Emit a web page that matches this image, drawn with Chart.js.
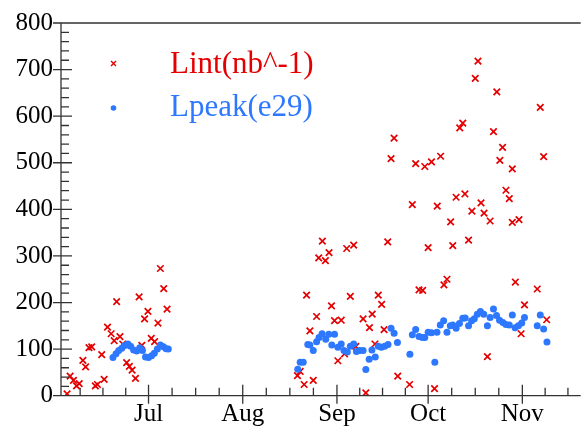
<!DOCTYPE html>
<html>
<head>
<meta charset="utf-8">
<script src="https://cdn.jsdelivr.net/npm/chart.js@4"></script>
<style>
  body { margin: 0; background: #fff; }
  canvas { display: block; }
</style>
</head>
<body>
<canvas id="lumiChart" width="587" height="429"></canvas>
<script>
// data, x = day of year -------------------------------------------------------
const monthStarts = [152, 182, 213, 244, 274, 305, 335];
const monthNames = ['Jun', 'Jul', 'Aug', 'Sep', 'Oct', 'Nov', 'Dec'];

const lintDay = [155.2, 156.2, 157.3, 158.3, 159.2, 160.4, 161.3, 162.4, 163.3, 164.5, 165.2, 166.6, 167.4, 168.5,
  169.7, 170.7, 171.5, 172.6, 173.5, 174.8, 175.7, 176.6, 177.7, 178.9, 179.8, 180.7, 181.8, 182.9, 184.0, 185.1,
  185.9, 187.0, 188.1,
  231.0, 231.9, 233.2, 234.0, 235.1, 236.2, 237.3, 238.0, 239.2, 240.2, 241.4, 242.2, 243.2, 244.3, 245.4, 246.5,
  247.2, 248.4, 249.5, 250.2, 252.6, 253.5, 254.7, 255.6, 256.5, 257.6, 258.7, 259.5, 260.7, 261.8, 262.8, 264.0,
  267.9, 268.8, 269.9, 271.0, 272.2, 272.9, 274.0, 275.1, 276.1, 277.0, 278.1, 279.2, 280.2, 281.4, 282.1, 283.2,
  284.4, 285.4, 286.1, 287.3, 288.4, 289.5, 290.4, 291.4, 292.4, 293.5, 294.4, 295.5, 296.6, 297.6, 298.5, 299.6,
  300.7, 301.7, 301.7, 302.7, 303.9, 304.6, 305.7, 309.9, 310.9, 312.0, 313.0];
const lintVal = [4, 42, 33, 21, 26, 76, 62, 103, 105, 21, 24, 88, 35, 147,
  133, 118, 202, 127, 111, 71, 63, 55, 37, 212, 108, 165, 181, 123, 116, 156,
  273, 230, 186,
  43, 52, 24, 216, 139, 33, 170, 296, 332, 290, 307, 193, 161, 75, 162, 90,
  316, 213, 323, 106, 165, 6, 146, 175, 111, 216, 196, 142, 330, 509, 553, 42,
  24, 410, 498, 227, 226, 492, 318, 502, 15, 407, 514, 238, 250, 373, 322, 426,
  575, 585, 433, 334, 396, 681, 718, 414, 392, 84, 375, 567, 652, 505, 533, 441,
  423, 487, 372, 244, 378, 133, 195, 229, 619, 513, 163];

const peakDay = [170.3, 171.3, 172.2, 173.2, 174.2, 175.2, 176.1, 177.1, 178.1, 179.1, 180.0, 181.0, 182.0, 183.0,
  183.9, 184.9, 185.9, 186.9, 187.8, 188.5,
  231.1, 231.9, 232.9, 234.4, 235.1, 236.2, 237.3, 238.1, 239.1, 240.3, 241.3, 242.3, 243.2, 244.3, 245.4, 246.3,
  247.4, 248.4, 249.5, 250.4, 251.5, 252.6, 253.5, 254.6, 255.5, 256.6, 257.6, 258.6, 259.7, 260.8, 261.8, 262.8,
  263.9, 268.0, 268.8, 269.9, 271.0, 272.1, 272.9, 274.0, 275.1, 276.2, 276.9, 278.0, 279.1, 280.2, 281.3, 282.1,
  283.2, 284.3, 285.4, 286.2, 287.3, 288.3, 289.2, 290.2, 291.2, 292.3, 293.5, 294.4, 295.5, 296.5, 297.5, 298.6,
  299.6, 300.7, 301.7, 302.6, 303.7, 304.8, 305.7, 309.9, 310.9, 312.0, 313.1];
const peakVal = [82, 90, 97, 102, 108, 111, 106, 98, 96, 103, 97, 83, 82, 86,
  91, 100, 109, 105, 101, 100,
  57, 72, 72, 110, 109, 97, 116, 125, 133, 121, 132, 109, 132, 104, 111, 97,
  94, 106, 111, 95, 97, 97, 56, 78, 98, 83, 106, 104, 106, 110, 145, 134,
  114, 89, 131, 142, 127, 125, 125, 136, 135, 72, 136, 152, 161, 136, 150, 152,
  145, 155, 166, 167, 150, 161, 165, 175, 181, 175, 150, 168, 186, 172, 162, 157,
  153, 152, 173, 146, 150, 156, 168, 150, 173, 143, 115];

const RED = 'rgb(228,0,0)';
const BLUE = 'rgb(45,120,255)';
const FONT = '"Liberation Serif", "Times New Roman", serif';

function toPoints(xs, ys) {
    return xs.map((x, i) => ({ x: x, y: ys[i] }));
}

// frame, inward ticks and legend ---------------------------------------------
const framePlugin = {
    id: 'frame',
    afterDatasetsDraw(chart) {
        const ctx = chart.ctx;
        const a = chart.chartArea;
        const x = chart.scales.x;
        const y = chart.scales.y;
        ctx.save();
        ctx.strokeStyle = '#333';
        ctx.lineWidth = 1.3;
        ctx.beginPath();
        ctx.moveTo(a.left, a.top);
        ctx.lineTo(a.right, a.top);
        ctx.moveTo(a.left, a.top);
        ctx.lineTo(a.left, a.bottom);
        ctx.lineTo(a.right, a.bottom);

        for (let v = 0; v <= 800; v += 20) {
            const py = y.getPixelForValue(v);
            const major = v % 100 === 0;
            ctx.moveTo(a.left - (major ? 8 : 0), py);
            ctx.lineTo(a.left + (major ? 11 : 8), py);
        }

        for (let m = 0; m < monthStarts.length - 1; m++) {
            const len = monthStarts[m + 1] - monthStarts[m];
            for (let k = 0; k < 4; k++) {
                const d = monthStarts[m] + k * len / 4;
                if (d < x.min || d > x.max) continue;
                const px = x.getPixelForValue(d);
                ctx.moveTo(px, a.bottom + (k === 0 ? 8 : 0));
                ctx.lineTo(px, a.bottom - (k === 0 ? 11 : 8));
            }
        }
        ctx.stroke();

        // legend
        const ds = chart.data.datasets;
        ctx.font = '31px ' + FONT;
        ctx.textBaseline = 'alphabetic';

        ctx.strokeStyle = ds[0].borderColor;
        ctx.lineWidth = 1.4;
        ctx.beginPath();
        ctx.moveTo(111, 61); ctx.lineTo(116, 66);
        ctx.moveTo(116, 61); ctx.lineTo(111, 66);
        ctx.stroke();
        ctx.fillStyle = ds[0].borderColor;
        ctx.fillText(ds[0].label, 170, 73);

        ctx.fillStyle = ds[1].backgroundColor;
        ctx.beginPath();
        ctx.arc(113.5, 108, 2.8, 0, Math.PI * 2);
        ctx.fill();
        ctx.fillText(ds[1].label, 170, 116);
        ctx.restore();
    }
};

function chartLumi() {
    const dataLumi = {
        datasets: [{
            label: 'Lint(nb^-1)',
            data: toPoints(lintDay, lintVal),
            pointStyle: 'crossRot',
            pointRadius: 4.6,
            borderColor: RED,
            backgroundColor: RED,
            borderWidth: 1.7,
            order: 1
        }, {
            label: 'Lpeak(e29)',
            data: toPoints(peakDay, peakVal),
            pointStyle: 'circle',
            pointRadius: 3.5,
            borderWidth: 0,
            borderColor: BLUE,
            backgroundColor: BLUE,
            order: 0
        }]
    };

    const configLumi = {
        type: 'scatter',
        data: dataLumi,
        options: {
            responsive: false,
            animation: false,
            devicePixelRatio: 1,
            layout: { padding: { top: 19, right: 0, bottom: 0, left: 0 } },
            plugins: {
                legend: { display: false },
                tooltip: { enabled: false }
            },
            scales: {
                x: {
                    type: 'linear',
                    min: 153.2,
                    max: 324.2,
                    grid: { display: false, drawTicks: false },
                    border: { display: false },
                    afterBuildTicks: (scale) => {
                        scale.ticks = monthStarts
                            .filter(d => d >= scale.min && d <= scale.max)
                            .map(d => ({ value: d }));
                    },
                    afterFit: (scale) => { scale.height = 33.3; },
                    ticks: {
                        autoSkip: false,
                        maxRotation: 0,
                        padding: 4,
                        color: '#000',
                        font: { family: FONT, size: 25 },
                        callback: (v) => monthNames[monthStarts.indexOf(v)]
                    }
                },
                y: {
                    min: 0,
                    max: 800,
                    grid: { display: false, drawTicks: false },
                    border: { display: false },
                    afterFit: (scale) => { scale.width = 61; },
                    ticks: {
                        stepSize: 100,
                        padding: 8,
                        color: '#000',
                        font: { family: FONT, size: 25 }
                    }
                }
            }
        },
        plugins: [framePlugin]
    };

    new Chart(document.getElementById('lumiChart'), configLumi);
}

chartLumi();
</script>
</body>
</html>
